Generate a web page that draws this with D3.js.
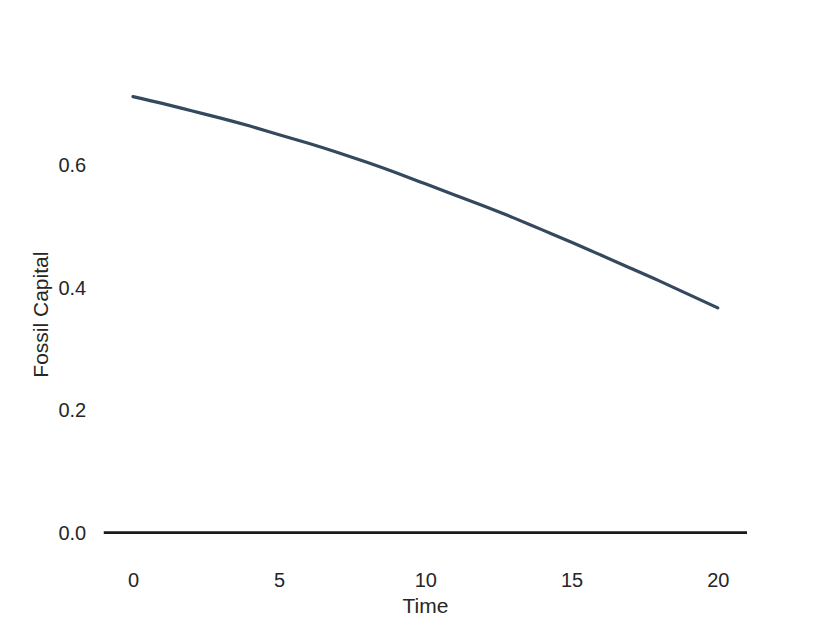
<!DOCTYPE html>
<html>
<head>
<meta charset="utf-8">
<script src="https://cdn.jsdelivr.net/npm/d3@7"></script>
<style>
  body { margin: 0; background: #fff; }
  svg text { font-family: "Liberation Sans", Arial, sans-serif; fill: #262626; }
</style>
</head>
<body>
<div id="chart"></div>
<script>
// Data
var time = [0, 1, 2, 3, 4, 5, 6, 7, 8, 9, 10, 11, 12, 13, 14, 15, 16, 17, 18, 19, 20];
var fossilCapital = [0.710, 0.699, 0.687, 0.675, 0.662, 0.648, 0.634, 0.619, 0.603, 0.586,
                     0.568, 0.550, 0.532, 0.513, 0.493, 0.473, 0.452, 0.431, 0.410, 0.388, 0.366];
var xTicks = [0, 5, 10, 15, 20];
var yTicks = [0.0, 0.2, 0.4, 0.6];

var W = 830, H = 623;
var margin = {top: 74.8, right: 83, bottom: 68.5, left: 103.75};
var width = W - margin.left - margin.right,
    height = H - margin.top - margin.bottom;

var svg = d3.select("#chart").append("svg")
  .attr("width", W)
  .attr("height", H);

var g = svg.append("g")
  .attr("transform", "translate(" + margin.left + "," + margin.top + ")");

// matplotlib-like 5% margins
var x = d3.scaleLinear().domain([-1, 21]).range([0, width]);
var yMax = d3.max(fossilCapital);
var y = d3.scaleLinear().domain([-0.05 * yMax, yMax * 1.05]).range([height, 0]);

//Zero line
g.append("line")
  .attr("x1", 0)
  .attr("x2", width)
  .attr("y1", y(0))
  .attr("y2", y(0))
  .style("stroke", "#1a1a1a")
  .style("stroke-width", "2.7px");

//Series line
var line = d3.line()
  .x(function(d, i){ return x(time[i]); })
  .y(function(d){ return y(d); })
  .curve(d3.curveNatural);

g.append("path")
  .datum(fossilCapital)
  .attr("d", line)
  .style("fill", "none")
  .style("stroke", "#34495e")
  .style("stroke-width", "3.2px")
  .style("stroke-linecap", "round");

//X axis
var xAxis = g.append("g")
  .attr("transform", "translate(0," + height + ")")
  .call(d3.axisBottom(x).tickValues(xTicks).tickSize(0).tickPadding(0).tickFormat(d3.format("d")));
xAxis.select(".domain").remove();
xAxis.selectAll("text")
  .attr("dy", null)
  .attr("y", 32.5)
  .style("font-size", "20px");

//Y axis
var yAxis = g.append("g")
  .call(d3.axisLeft(y).tickValues(yTicks).tickSize(0).tickPadding(0).tickFormat(d3.format(".1f")));
yAxis.select(".domain").remove();
yAxis.selectAll("text")
  .attr("x", -17.5)
  .attr("dy", "0.35em")
  .style("font-size", "20px");

//Axis labels
svg.append("text")
  .attr("x", margin.left + width / 2)
  .attr("y", 612.5)
  .style("text-anchor", "middle")
  .style("font-size", "21px")
  .text("Time");

svg.append("text")
  .attr("transform", "translate(48.3," + (margin.top + height / 2) + ") rotate(-90)")
  .style("text-anchor", "middle")
  .style("font-size", "21px")
  .text("Fossil Capital");
</script>
</body>
</html>
